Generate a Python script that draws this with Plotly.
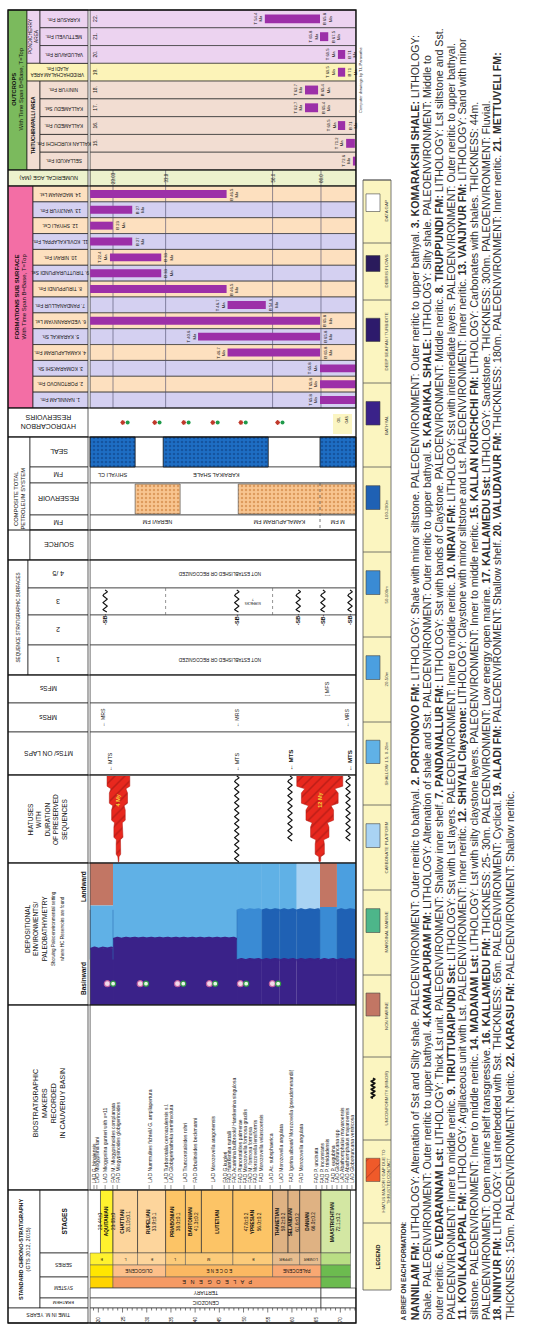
import math
import plotly.graph_objects as go

W, H = 559, 1326
FONT = "Liberation Sans, Arial, Helvetica, sans-serif"

# ============================ DATA ============================
chart_top_ma, chart_base_ma = 18.3, 73.2
ruler_labels = [20, 25, 30, 35, 40, 45, 50, 55, 60, 65, 70]
ruler_ticks = list(range(19, 74))

stage_names = ["AQUITANIAN", "CHATTIAN", "RUPELIAN", "PRIABONIAN", "BARTONIAN",
               "LUTETIAN", "YPRESIAN", "THANETIAN", "SELANDIAN", "DANIAN", "MAASTRICHTIAN"]
stage_top = [20.44, 23.03, 28.1, 33.9, 38.0, 41.3, 47.8, 56.0, 59.2, 61.6, 66.0]
stage_base = [23.03, 28.1, 33.9, 38.0, 41.3, 47.8, 56.0, 59.2, 61.6, 66.0, 72.1]
stage_top_text = ["20.44±0", "", "", "", "", "", "47.8±0.2", "", "", "", ""]
stage_base_text = ["23.03±0", "28.10±0.1", "33.9±0.1", "38.0±0.1", "41.3±0.2", "",
                   "56.0±0.2", "59.2±0.2", "61.6±0.2", "66.0±0.2", "72.1±0.2"]
stage_colors = ["#fff22e", "#fdd59c", "#fdd59c", "#fcc466", "#fcc466", "#fcc466",
                "#fcc466", "#dfb283", "#dfb283", "#dfb283", "#d3e7a3"]

subseries_names = ["E", "L", "E", "L", "M", "E", "UPPER", "LOWER", ""]
subseries_top = [18.3, 23.03, 28.1, 33.9, 38.0, 47.8, 56.0, 61.6, 66.0]
subseries_base = [23.03, 28.1, 33.9, 38.0, 47.8, 56.0, 61.6, 66.0, 72.1]
subseries_colors = ["#fff22e", "#fdd59c", "#fdd59c", "#fccb7a", "#fccb7a", "#fccb7a",
                    "#e7bd8f", "#e7bd8f", "#b9de84"]

series_names = ["", "OLIGOCENE", "E O C E N E", "PALEOCENE", ""]
series_top = [18.3, 23.03, 33.9, 56.0, 66.0]
series_base = [23.03, 33.9, 56.0, 66.0, 72.1]
series_colors = ["#ffe600", "#fdc08a", "#fbb862", "#f9a872", "#6cbb4f"]

system_names = ["", "P   A   L   E   O   G   E   N   E", ""]
system_top = [18.3, 23.03, 66.0]
system_base = [23.03, 66.0, 72.1]
system_colors = ["#ffd400", "#f59a64", "#6cbb4f"]

tertiary_name, tertiary_span = "TERTIARY", (18.3, 66.0)
erathem_name, erathem_span = "CENOZOIC", (18.3, 66.0)

bio_events = ["LAD G. binaiensis", "LAD Miogypsina tani", "LAD Miogypsina gunteri with x=11",
              "FAD M. Miogypsinoides complanata", "FAD Miogypsinoides globigerinoides",
              "LAD Nummulites fichteli/ G. ampliapertura", "LAD Turborotalia cerroazulensis s.l.",
              "LAD Globigerinatheka semiinvoluta", "LAD Truncorotaloides rohri",
              "FAD Orbulinoides beckmanni", "LAD Morozovella aragonensis", "FAD G.kugleri",
              "FAD Hantkenina nuttalli", "FAD Acarinina bullbrooki/ Hantkenina singulosa",
              "FAD Planorotalites palmerae", "FAD Morozovella formosa gracilis",
              "FAD M. formosa formosa", "FAD Morozovella lensiformis", "FAD Morozovella velascoensis",
              "LAD Ac. subsphaerica", "LAD Morozovella angulata",
              "FAD Igorina albeari/ Morozovella (pseudomenardii)", "FAD Morozovella angulata",
              "FAD P. uncinata", "FAD P. inconstans", "FAD P. trinidadensis", "FAD P. eugubina",
              "LAD Globotruncana spp", "LAD Abathomphalus mayaroensis",
              "FAD Abathomphalus mayaroensis", "LAD Globotruncana ventricosa"]
bio_ma = [19.1, 19.7, 21.4, 23.0, 23.9, 30.5, 33.8, 35.0, 37.7, 39.8, 43.5, 46.0, 47.0, 47.9,
          49.3, 50.3, 51.3, 52.4, 53.4, 55.5, 57.6, 59.6, 61.7, 65.0, 66.2, 67.2, 68.3, 69.3,
          70.3, 71.4, 72.4]

env_colors = {"gap": "#ffffff", "debris": "#2a1b5c", "turbidite": "#2d1a6c", "bathyal": "#3a2289",
              "m100": "#1f61b4", "m50": "#3a8bd4", "m20": "#4b9fe0", "shallow": "#60b1e6",
              "carb": "#a9d3f3", "marginal": "#4db68a", "non": "#c27664"}
dep_seg_start = [18.3, 23.03, 48.65, 53.8, 57.5, 61.0, 65.8, 69.3]
dep_seg_end = [23.03, 48.65, 53.8, 57.5, 61.0, 65.8, 69.3, 73.2]
dep_seg_layers = [
    [("non", 0.30), ("shallow", 0.60), ("bathyal", 1.0)],
    [("shallow", 0.53), ("bathyal", 1.0)],
    [("shallow", 0.33), ("m50", 0.68), ("bathyal", 1.0)],
    [("shallow", 0.33), ("m100", 0.68), ("bathyal", 1.0)],
    [("shallow", 0.33), ("m100", 0.68), ("bathyal", 1.0)],
    [("carb", 0.33), ("m100", 0.68), ("bathyal", 1.0)],
    [("non", 0.31), ("m50", 0.68), ("bathyal", 1.0)],
    [("m20", 0.33), ("m100", 0.68), ("bathyal", 1.0)],
]
hc_show_ma = [22.4, 29.2, 36.9, 43.5, 49.9, 56.5]

hiatus_top = [21.8, 61.0]
hiatus_base = [26.5, 70.5]
hiatus_text = ["4 My", "12 My"]
hiatus_unconf_ma = [48.6, 59.6, 71.6]

mts_ma = [22.3, 48.6, 59.6, 71.9]
mrs_ma = [20.8, 48.6, 71.3]
mfs_ma = [67.3]
sb_ma = [21.4, 48.6, 61.3, 66.4, 72.0]
numeric_age_ma = [23.03, 33.9, 56.0, 66.0]

seal_top = [18.3, 33.4, 65.8]
seal_base = [27.6, 55.1, 73.2]
seal_names = ["SHIYALI CL", "KARAIKAL SHALE", ""]
res_top = [27.6, 48.9]
res_base = [36.9, 73.2]
res_names = ["NERAVI FM", "KAMALAPURAM FM"]
res_split_ma = 65.8
hc_pairs_ma = [25.5, 32.1, 38.1, 44.1, 49.9, 57.5]

sub_names = ["14. MADANAM Lst.", "13. VANJIYUR Fm.", "12. SHIYALI Cst.", "11. KOVILKALAPPAL Fm.",
             "10. NIRAVI Fm.", "9. TIRUTTURAIPUNDI Sst.", "8. TIRUPPUNDI Fm.", "7. PANDANALLUR Fm.",
             "6. VEDARANNYAM Lst.", "5. KARAIKAL Sh.", "4. KAMALAPURAM Fm.", "3. KOMARAKSHI Sh.",
             "2. PORTONOVO Fm.", "1. NANNILAM Fm."]
sub_top = [18.3, 18.3, 18.3, 18.3, 22.4, 18.3, 18.3, 46.7, 18.3, 40.6, 46.7, 65.8, 65.8, 65.8]
sub_base = [46.5, 27.0, 23.0, 27.0, 33.0, 33.0, 46.5, 54.6, 65.8, 65.8, 65.8, 73.2, 73.2, 73.2]

out_names = ["KARASUR Fm.", "METTUVELI Fm.", "VALUDAVUR Fm.", "ALADI Fm.", "NINIYUR Fm.",
             "KALLAMEDU Sst.", "KALLAMEDU Fm.", "KALLAN KURCHCHI Fm.", "SELLAKUDI Fm."]
out_nums = ["22.", "21.", "20.", "19.", "18.", "17.", "16.", "15.", ""]
out_area = ["PONDICHERRY", "PONDICHERRY", "PONDICHERRY", "VRIDDHACHALAM", "TRICHY", "TRICHY",
            "TRICHY", "TRICHY", "TRICHY"]
out_top = [54.4, 65.8, 69.5, 69.5, 62.7, 62.7, 69.5, 71.2, 72.6]
out_base = [65.8, 67.5, 71.0, 71.0, 65.4, 65.4, 71.0, 73.0, 73.2]

legend_labels = ["DATA GAP", "DEBRIS FLOWS", "DEEP SEA FAN / TURBIDITE", "BATHYAL", "100-200m",
                 "50-100m", "20-50m", "SHALLOW 1.5; 0-20m", "CARBONATE PLATFORM", "MARGINAL MARINE",
                 "NON MARINE", "UNCONFORMITY (MINOR)",
                 "HIATUS MAJOR / GAP DUE TO<br>THRUSTED CONTACT", "LEGEND"]
legend_keys = ["gap", "debris", "turbidite", "bathyal", "m100", "m50", "m20", "shallow", "carb",
               "marginal", "non", "unconf", "hiatus", "title"]

brief_lines = [
    "<b>A BRIEF ON EACH FORMATION:</b>",
    "<b>NANNILAM FM:</b> LITHOLOGY: Alternation of Sst and Silty shale. PALEOENVIRONMENT: Outer neritic to bathyal. <b>2. PORTONOVO FM:</b> LITHOLOGY: Shale with minor siltstone. PALEOENVIRONMENT: Outer neritic to upper bathyal. <b>3. KOMARAKSHI SHALE:</b> LITHOLOGY:",
    "Shale. PALEOENVIRONMENT: Outer neritic to upper bathyal. <b>4.KAMALAPURAM FM:</b> LITHOLOGY: Alternation of shale and Sst. PALEOENVIRONMENT: Outer neritic to upper bathyal. <b>5. KARAIKAL SHALE:</b> LITHOLOGY: Silty shale. PALEOENVIRONMENT: Middle to",
    "outer neritic. <b>6. VEDARANNAM Lst:</b> LITHOLOGY: Thick Lst unit. PALEOENVIRONMENT: Shallow inner shelf. <b>7. PANDANALLUR FM:</b> LITHOLOGY: Sst with bands of Claystone. PALEOENVIRONMENT: Middle neritic. <b>8. TIRUPPUNDI FM:</b> LITHOLOGY: Lst siltstone and Sst.",
    "PALEOENVIRONMENT: Inner to middle neritic. <b>9. TIRUTTURAIPUNDI Sst:</b> LITHOLOGY: Sst with Lst layers. PALEOENVIRONMENT: Inner to middle neritic. <b>10. NIRAVI FM:</b> LITHOLOGY: Sst with intermediate layers. PALEOENVIRONMENT: Outer neritic to upper bathyal.",
    "<b>11. KOVILKALAPPAL FM:</b> LITHOLOGY: Argillaceous unit with Lst. PALEOENVIRONMENT: Inner neritic. <b>12. SHIYALI Claystone:</b> LITHOLOGY: Claystone with minor siltstone and Lst. PALEOENVIRONMENT: Inner neritic. <b>13. VANJIYUR FM:</b> LITHOLOGY: Sand with minor",
    "siltstone. PALEOENVIRONMENT: Inner to middle neritic. <b>14. MADANAM Lst:</b> LITHOLOGY: Lst with silty claystone layers. PALEOENVIRONMENT: Inner to middle neritic. <b>15. KALLAN KURCHCHI FM:</b> LITHOLOGY: Carbonates with shales. THICKNESS: 44m.",
    "PALEOENVIRONMENT: Open marine shelf transgressive. <b>16. KALLAMEDU FM:</b> THICKNESS: 25- 30m. PALEOENVIRONMENT: Low energy open marine. <b>17. KALLAMEDU Sst:</b> LITHOLOGY: Sandstone. THICKNESS: 300m. PALEOENVIRONMENT: Fluvial.",
    "<b>18. NINIYUR FM:</b> LITHOLOGY: Lst interbedded with Sst. THICKNESS: 65m. PALEOENVIRONMENT: Cyclical. <b>19. ALADI FM:</b> PALEOENVIRONMENT: Shallow shelf. <b>20. VALUDAVUR FM:</b> THICKNESS: 180m. PALEOENVIRONMENT: Inner neritic. <b>21. METTUVELI FM:</b>",
    "THICKNESS: 150m. PALEOENVIRONMENT: Neritic. <b>22. KARASU FM:</b> PALEOENVIRONMENT: Shallow neritic.",
]

# ============================ LAYOUT CONSTANTS ============================
X_RANGE = [-0.32, 115.18]          # Ma at left / right page edge
LANE = {
    "outcrops": (10, 170), "numage": (170, 186), "subsurface": (186, 408), "hc": (408, 437),
    "seal": (437, 467), "seal_fm": (467, 483), "res": (483, 515), "res_fm": (515, 530),
    "source": (530, 560), "seq45": (560, 588), "seq3": (588, 615), "seq2": (615, 645),
    "seq1": (645, 675), "mfs": (675, 703), "mrs": (703, 732), "mts": (732, 775),
    "hiatus": (775, 863), "dep": (863, 1005), "bio": (1005, 1190), "stages": (1190, 1253),
    "subseries": (1253, 1265), "series": (1265, 1277), "system": (1277, 1288),
    "tertiary": (1288, 1298), "erathem": (1298, 1308), "time": (1308, 1323),
}
FX0, FXL, FX1 = 8, 88, 356

# Arial / Liberation Sans advance widths (1/1000 em) for fitting the justified brief text
_UP = "ABCDEFGHIJKLMNOPQRSTUVWXYZ"
_LO = "abcdefghijklmnopqrstuvwxyz"
_W_UP = [667, 667, 722, 722, 667, 611, 778, 722, 278, 500, 667, 556, 833, 722, 778, 667, 778, 722,
         667, 611, 722, 667, 944, 667, 667, 611]
_W_LO = [556, 556, 500, 556, 556, 278, 556, 556, 222, 222, 500, 222, 833, 556, 556, 556, 556, 333,
         500, 278, 556, 500, 722, 500, 500, 500]
_WB_UP = [722, 722, 722, 722, 667, 611, 778, 722, 278, 556, 722, 611, 833, 722, 778, 667, 778, 722,
          667, 611, 722, 667, 944, 667, 667, 611]
_WB_LO = [556, 611, 556, 611, 556, 333, 611, 611, 278, 278, 556, 278, 889, 611, 611, 611, 611, 389,
          556, 333, 611, 556, 778, 556, 556, 500]
_REG = dict(zip(_UP, _W_UP)); _REG.update(zip(_LO, _W_LO))
_BOLD = dict(zip(_UP, _WB_UP)); _BOLD.update(zip(_LO, _WB_LO))
for _d, _colon in ((_REG, 278), (_BOLD, 333)):
    _d.update({" ": 278, ".": 278, ",": 278, ":": _colon, ";": _colon, "-": 333, "(": 333,
               ")": 333, "/": 278, "=": 584, "±": 584})
    _d.update({c: 556 for c in "0123456789"})


def text_em(s):
    total, bold, i = 0, False, 0
    while i < len(s):
        if s.startswith("<b>", i):
            bold, i = True, i + 3
            continue
        if s.startswith("</b>", i):
            bold, i = False, i + 4
            continue
        total += (_BOLD if bold else _REG).get(s[i], 556)
        i += 1
    return total / 1000.0


shapes, anns = [], []
fig = go.Figure()


def P(p):
    return p / W


def px2ma(p):
    return X_RANGE[0] + p / W * (X_RANGE[1] - X_RANGE[0])


def rect(x0, x1, y0, y1, fill=None, lc="#1a1a1a", lw=0.7, xref="x", layer="below", dash=None):
    line = dict(color=lc, width=lw) if lc else dict(width=0)
    if dash:
        line["dash"] = dash
    s = dict(type="rect", xref=xref, yref="y", x0=x0, x1=x1, y0=y0, y1=y1, line=line, layer=layer)
    if fill:
        s["fillcolor"] = fill
    shapes.append(s)


def seg(x0, y0, x1, y1, xref="x", lc="#1a1a1a", lw=0.7, dash=None, layer="below"):
    line = dict(color=lc, width=lw)
    if dash:
        line["dash"] = dash
    shapes.append(dict(type="line", xref=xref, yref="y", x0=x0, y0=y0, x1=x1, y1=y1, line=line, layer=layer))


def txt(x, y, s, size=6, angle=0, xref="x", color="#111", xa="center", ya="middle", align="center"):
    anns.append(dict(x=x, y=y, xref=xref, yref="y", text=s, showarrow=False, textangle=angle,
                     font=dict(size=size, color=color, family=FONT), xanchor=xa, yanchor=ya,
                     align=align, borderpad=0))


def poly(xs, ys, fill, line_c="#222", lw=0.6, pattern=None):
    kw = dict(x=xs, y=ys, mode="lines", fill="toself", fillcolor=fill,
              line=dict(color=line_c, width=lw), hoverinfo="skip", showlegend=False)
    if pattern:
        kw["fillpattern"] = pattern
    fig.add_trace(go.Scatter(**kw))


def wavy(m, y0, y1, amp=0.45, period=7.0, color="#111", width=1.1):
    n = int((y1 - y0) / 0.5) + 1
    ys = [y0 + k * 0.5 for k in range(n)]
    xs = [m + amp * math.sin(2 * math.pi * (y - y0) / period) for y in ys]
    fig.add_trace(go.Scatter(x=xs, y=ys, mode="lines", line=dict(color=color, width=width),
                             hoverinfo="skip", showlegend=False))


def hwavy(x0, x1, y, color, amp=1.3, period=1.7, width=2.2):
    n = int((x1 - x0) / 0.1) + 1
    xs = [x0 + k * (x1 - x0) / (n - 1) for k in range(n)]
    ys = [y - amp * abs(math.sin(math.pi * (x - x0) / period)) for x in xs]
    fig.add_trace(go.Scatter(x=xs, y=ys, mode="lines", line=dict(color=color, width=width),
                             hoverinfo="skip", showlegend=False))


def mid(a, b):
    return (a + b) / 2


# ============================ OUTCROPS ============================
area_col = {"PONDICHERRY": "#ecd3f0", "VRIDDHACHALAM": "#fcf3b8", "TRICHY": "#f2ddd2"}
oy0, oy1 = LANE["outcrops"]
orow = (oy1 - oy0) / len(out_names)
rect(P(FX0), P(27), oy0, oy1, fill="#7bba5d", xref="paper")
txt(P(17.5), mid(oy0, oy1), "<b>OUTCROPS</b><br>With Time Span B=Base, T=Top", size=5.8, angle=-90,
    xref="paper")
groups = {}
for i, a in enumerate(out_area):
    groups.setdefault(a, []).append(i)
for a, idx in groups.items():
    ya = oy0 + idx[0] * orow
    yb = oy0 + (idx[-1] + 1) * orow
    if a == "VRIDDHACHALAM":
        rect(P(27), P(FXL), ya, yb, fill=area_col[a], xref="paper")
        txt(P(57), mid(ya, yb), "VRIDDHACHALAM AREA<br>ALADI Fm.", size=4.6, angle=180, xref="paper")
    else:
        rect(P(27), P(40), ya, yb, fill=area_col[a], xref="paper")
        lab = "PONDICHERRY<br>AREA" if a == "PONDICHERRY" else "<b>THITUCHIRAPALLI AREA</b>"
        txt(P(33.5), mid(ya, yb), lab, size=4.8, angle=-90, xref="paper")
for i, nm in enumerate(out_names):
    y0 = oy0 + i * orow
    y1 = y0 + orow
    c = area_col[out_area[i]]
    rect(chart_top_ma, chart_base_ma, y0, y1, fill=c, lc="#333", lw=0.7)
    if out_area[i] != "VRIDDHACHALAM":
        rect(P(40), P(FXL), y0, y1, fill=c, xref="paper")
        txt(P(64), mid(y0, y1), nm, size=4.8, angle=180, xref="paper")
    txt(P(95), mid(y0, y1), out_nums[i], size=5, angle=-90, xref="paper")

# ============================ NUMERICAL AGE ============================
ny0, ny1 = LANE["numage"]
rect(P(FX0), P(FXL), ny0, ny1, fill="#edf2cd", xref="paper")
rect(chart_top_ma, chart_base_ma, ny0, ny1, fill="#edf2cd")
txt(P(48), mid(ny0, ny1), "NUMERICAL AGE (MA)", size=5.5, angle=180, xref="paper")
for v in numeric_age_ma:
    txt(v, mid(ny0, ny1), f"{v:.2f}" if v < 30 else f"{v:.1f}", size=4.5, angle=-90)

# ============================ SUBSURFACE ============================
sy0, sy1 = LANE["subsurface"]
srow = (sy1 - sy0) / len(sub_names)
rect(P(FX0), P(33), sy0, sy1, fill="#f36ea5", xref="paper")
txt(P(20.5), mid(sy0, sy1), "<b>FORMATIONS SUB SURFACE</b><br>With Time Span B=Base, T=Top", size=6,
    angle=-90, xref="paper")
sub_cols = ["#fde0bf", "#d4d0f1"]
for i, nm in enumerate(sub_names):
    y0 = sy0 + i * srow
    y1 = y0 + srow
    c = sub_cols[i % 2]
    rect(P(33), P(FXL), y0, y1, fill=c, xref="paper")
    rect(chart_top_ma, chart_base_ma, y0, y1, fill=c, lc="#333")
    txt(P(60.5), mid(y0, y1), nm, size=4.8, angle=180, xref="paper")
for v in numeric_age_ma:
    seg(v, ny0, v, sy1, lc="#4a4a6a", lw=0.6)

# ============================ HC RESERVOIRS / PETROLEUM SYSTEM ============================
hy0, hy1 = LANE["hc"]
rect(P(FX0), P(FXL), hy0, hy1, fill="white", xref="paper")
txt(P(48), mid(hy0, hy1), "HYDROCARBON<br>RESERVOIRS", size=7, angle=180, xref="paper")
red_x = [m - 0.45 for m in hc_pairs_ma]
grn_x = [m + 0.55 for m in hc_pairs_ma]
fig.add_trace(go.Scatter(x=red_x, y=[mid(hy0, hy1)] * len(red_x), mode="markers",
                         marker=dict(color="#c0392b", size=4, symbol="asterisk-open",
                                     line=dict(color="#c0392b", width=1.2)),
                         hoverinfo="skip", showlegend=False))
fig.add_trace(go.Scatter(x=grn_x, y=[mid(hy0, hy1)] * len(grn_x), mode="markers",
                         marker=dict(color="#1f9a4a", size=4), hoverinfo="skip", showlegend=False))
rect(P(333), P(352), hy0 + 6, hy1 - 3, fill="#fbf5c2", lc=None, xref="paper", layer="above")
txt(P(338), mid(hy0, hy1) - 3, "OIL", size=3.5, angle=-90, xref="paper")
txt(P(346), mid(hy0, hy1) - 3, "GAS", size=3.5, angle=-90, xref="paper")
fig.add_trace(go.Scatter(x=[px2ma(338), px2ma(346)], y=[hy1 - 7, hy1 - 7], mode="markers",
                         marker=dict(color=["#c0392b", "#1f9a4a"], size=3), hoverinfo="skip",
                         showlegend=False))

cy0 = LANE["seal"][0]
cy1 = LANE["source"][1]
rect(P(FX0), P(30), cy0, cy1, fill="white", xref="paper")
txt(P(19), mid(cy0, cy1), "COMPOSITE TOTAL<br>PETROLEUM SYSTEM", size=5.8, angle=-90, xref="paper")
for key, lab, sz in [("seal", "SEAL", 7), ("seal_fm", "FM", 6.5), ("res", "RESERVOIR", 7),
                     ("res_fm", "FM", 6.5), ("source", "SOURCE", 7)]:
    a, b = LANE[key]
    rect(P(30), P(FXL), a, b, fill="white", xref="paper")
    txt(P(59), mid(a, b), lab, size=sz, angle=180, xref="paper")
    rect(chart_top_ma, chart_base_ma, a, b, fill="white", lc="#333")

a, b = LANE["seal"]
for t, bs, nm in zip(seal_top, seal_base, seal_names):
    poly([t, bs, bs, t, t], [a, a, b, b, a], "#1e6ec4", "#111", 0.8,
         dict(shape=".", bgcolor="#1e6ec4", fgcolor="#0b3a7a", size=4, solidity=0.35))
    if nm:
        txt(mid(t, bs), mid(*LANE["seal_fm"]), nm, size=5.5, angle=180)
a, b = LANE["res"]
for t, bs, nm in zip(res_top, res_base, res_names):
    poly([t, bs, bs, t, t], [a + 1, a + 1, b - 1, b - 1, a + 1], "#f8c590", "#444", 0.6,
         dict(shape=".", bgcolor="#f8c590", fgcolor="#c46f2a", size=4, solidity=0.3))
    txt(mid(t, min(bs, res_split_ma)), mid(*LANE["res_fm"]), nm, size=5.5, angle=180)
seg(res_split_ma, LANE["res"][0], res_split_ma, LANE["res_fm"][1], lc="#555", lw=0.8, dash="dot",
    layer="above")
txt(mid(res_split_ma, chart_base_ma), mid(*LANE["res_fm"]), "M FM", size=5.5, angle=180)

# ============================ SEQUENCE STRATIGRAPHY ============================
qy0 = LANE["seq45"][0]
qy1 = LANE["seq1"][1]
rect(P(FX0), P(28), qy0, qy1, fill="white", xref="paper")
txt(P(18), mid(qy0, qy1), "SEQUENCE STRATIGRAPHIC SURFACES", size=4.6, angle=-90, xref="paper")
for key, lab in [("seq45", "4 /5"), ("seq3", "3"), ("seq2", "2"), ("seq1", "1")]:
    a, b = LANE[key]
    rect(P(28), P(FXL), a, b, fill="white", xref="paper")
    txt(P(58), mid(a, b), lab, size=7, angle=180, xref="paper")
    rect(chart_top_ma, chart_base_ma, a, b, fill="white", lc="#333")
for key in ["seq45", "seq1"]:
    txt(px2ma(220), mid(*LANE[key]), "NOT ESTABLISHED OR RECOGNIZED", size=4.6, angle=180)
for v in numeric_age_ma[1:3]:
    seg(v, LANE["seq3"][0], v, LANE["seq3"][1], lc="#666", lw=0.7, dash="dot")
txt(px2ma(253), mid(*LANE["seq3"]), "SURFACES<br>?", size=3, angle=180)
for m in sb_ma:
    wavy(m, LANE["seq3"][0] + 2, LANE["seq2"][0] - 3)
    txt(m, LANE["seq2"][0] + 5, "<b>-SB-</b>", size=5.5, angle=-90)

# ============================ MFS / MRS / MTS ============================
for key, lab in [("mfs", "MFSs"), ("mrs", "MRSs"), ("mts", "MTSs/ ON LAPS")]:
    a, b = LANE[key]
    rect(P(FX0), P(FXL), a, b, fill="white", xref="paper")
    txt(P(48), mid(a, b), lab, size=6.5, angle=180, xref="paper")
    rect(chart_top_ma, chart_base_ma, a, b, fill="white", lc="#333")
for m in mfs_ma:
    txt(m, mid(*LANE["mfs"]), "[ MFS", size=5.5, angle=-90)
for m in mrs_ma:
    txt(m, mid(*LANE["mrs"]), "← MRS", size=5.2, angle=-90)
for i, m in enumerate(mts_ma):
    txt(m, LANE["mts"][1] - 3, "<b>← MTS</b>" if i >= 2 else "← MTS", size=6.2 if i >= 2 else 5.4,
        angle=-90, ya="bottom")

# ============================ HIATUSES ============================
ha, hb = LANE["hiatus"]
rect(P(FX0), P(FXL), ha, hb, fill="white", xref="paper")
txt(P(48), mid(ha, hb), "HIATUSES<br>WITH<br>DURATION<br>OF PRESERVED<br>SEQUENCES", size=6.5,
    angle=-90, xref="paper")
rect(chart_top_ma, chart_base_ma, ha, hb, fill="white", lc="#333")
for t, bs, lab in zip(hiatus_top, hiatus_base, hiatus_text):
    c = mid(t, bs)
    hw = (bs - t) / 2
    ytop, ytip = ha + 1, hb - 2
    n = 5
    dh = (ytip - ytop) / n
    left = [(c - hw, ytop)]
    for k in range(n):
        wk = hw * (1 - k / n)
        wn = hw * (1 - (k + 1) / n)
        yk = ytop + k * dh
        left.append((c - wk, yk + 0.6 * dh))
        left.append((c - max(wn, hw * 0.04) * 0.8 - 0.05, yk + dh * 0.75))
        left.append((c - max(wn, hw * 0.04), yk + dh))
    left.append((c, ytip + 1))
    right = [(2 * c - x, y) for (x, y) in reversed(left)]
    pts = left + right
    poly([p[0] for p in pts], [p[1] for p in pts], "#e8281e", "#b01810", 0.5,
         dict(shape="/", bgcolor="#e8281e", fgcolor="#8e1410", size=7, solidity=0.22))
    txt(c, ha + 25, f"<b>{lab}</b>", size=5.5, angle=-90, color="#f5d23c")
for m in hiatus_unconf_ma:
    wavy(m, ha + 1, hb - 22 if m > 55 else hb - 1)

# ============================ DEPOSITIONAL ENVIRONMENT ============================
da, db = LANE["dep"]
rect(P(FX0), P(FXL), da, db, fill="white", xref="paper")
txt(P(44), mid(da, db) - 5, "DEPOSITIONAL<br>ENVIRONMENTS/<br>PALEOBATHYMETRY<br>"
    "<span style='font-size:4.6px'>Showing Paleoenvironmental setting</span><br>"
    "<span style='font-size:4.6px'>where HC Reservoirs are found</span>", size=6.5, angle=-90,
    xref="paper")
txt(P(83), da + 24, "<b>Landward</b>", size=6.5, angle=-90, xref="paper")
txt(P(83), db - 26, "<b>Basinward</b>", size=6.5, angle=-90, xref="paper")
for s0, s1, layers in zip(dep_seg_start, dep_seg_end, dep_seg_layers):
    f0 = 0.0
    for key, f1 in layers:
        rect(s0, s1, da + f0 * (db - da), da + f1 * (db - da), fill=env_colors[key], lc=None)
        f0 = f1
    seg(s0, da + 0.33 * (db - da), s0, da + 0.68 * (db - da), lc="#2d6fb5", lw=0.6)
for s0, s1, layers in zip(dep_seg_start, dep_seg_end, dep_seg_layers):
    for (k_up, f_up), (k_dn, _) in zip(layers[:-1], layers[1:]):
        if k_up not in ("non",):
            hwavy(s0 + 0.05, s1 - 0.05, da + f_up * (db - da) + 0.8, env_colors[k_dn])
rect(chart_top_ma, chart_base_ma, da, db, fill=None, lc="#333")
hy = da + 0.85 * (db - da)
fig.add_trace(go.Scatter(x=[m - 0.55 for m in hc_show_ma], y=[hy] * len(hc_show_ma), mode="markers",
                         marker=dict(color="#f2d9ea", size=6, symbol="circle",
                                     line=dict(color="#c060a0", width=1.2)),
                         hoverinfo="skip", showlegend=False))
fig.add_trace(go.Scatter(x=[m + 0.65 for m in hc_show_ma], y=[hy] * len(hc_show_ma), mode="markers",
                         marker=dict(color="#e8f5e8", size=5, symbol="circle",
                                     line=dict(color="#2f9a45", width=1.2)),
                         hoverinfo="skip", showlegend=False))

# ============================ BIOSTRATIGRAPHY ============================
ba, bb = LANE["bio"]
rect(P(FX0), P(FXL), ba, bb, fill="white", xref="paper")
txt(P(48), mid(ba, bb) + 5, "BIOSTRATIGRAPHIC<br>MAKERS<br>RECORDED<br>IN CAUVERUY BASIN", size=7,
    angle=-90, xref="paper")
rect(chart_top_ma, chart_base_ma, ba, bb, fill="white", lc="#333")
for nm, m in zip(bio_events, bio_ma):
    seg(m, bb - 1, m, bb - 5, lc="#333", lw=0.5)
    txt(m, bb - 6, nm, size=5, angle=-90, ya="bottom", color="#222")

# ============================ CHRONOSTRATIGRAPHY ============================
ka = LANE["stages"][0]
kb = LANE["erathem"][1]
rect(P(FX0), P(40), ka, kb, fill="white", xref="paper")
txt(P(24), mid(ka, kb), "<b>STANDARD CHRONO-STRATIGRAPHY</b><br>(GTS 2012, 2015)", size=5.5,
    angle=-90, xref="paper")
a, b = LANE["stages"]
rect(P(40), P(FXL), a, b, fill="white", xref="paper")
txt(P(64), mid(a, b), "<b>STAGES</b>", size=6.5, angle=-90, xref="paper")
a, b = LANE["subseries"][0], LANE["series"][1]
rect(P(40), P(FXL), a, b, fill="white", xref="paper")
txt(P(64), mid(a, b), "SERIES", size=4.6, angle=180, xref="paper")
a, b = LANE["system"][0], LANE["tertiary"][1]
rect(P(40), P(FXL), a, b, fill="white", xref="paper")
txt(P(64), mid(a, b), "SYSTEM", size=4.6, angle=180, xref="paper")
a, b = LANE["erathem"]
rect(P(40), P(FXL), a, b, fill="white", xref="paper")
txt(P(64), mid(a, b), "ERATHEM", size=4.4, angle=180, xref="paper")
ta, tb = LANE["time"]
rect(P(FX0), P(FXL), ta, tb, fill="white", xref="paper")
txt(P(48), mid(ta, tb), "TIME IN M. YEARS", size=5, angle=180, xref="paper")

a, b = LANE["stages"]
for nm, t, bs, tt, bt, c in zip(stage_names, stage_top, stage_base, stage_top_text, stage_base_text,
                                stage_colors):
    t0 = max(t, chart_top_ma)
    rect(t0, bs, a, b, fill=c, lc="#333")
    parts = []
    if tt:
        parts.append(tt)
    parts.append(f"<b>{nm}</b>")
    if bt:
        parts.append(bt)
    txt(mid(t0, bs), mid(a, b), "<br>".join(parts), size=4.8, angle=-90)
for key, names, tops, bases, cols, sz in [
        ("subseries", subseries_names, subseries_top, subseries_base, subseries_colors, 3.8),
        ("series", series_names, series_top, series_base, series_colors, 4.6),
        ("system", system_names, system_top, system_base, system_colors, 5.5)]:
    a, b = LANE[key]
    for nm, t, bs, c in zip(names, tops, bases, cols):
        rect(t, bs, a, b, fill=c, lc="#555", lw=0.5)
        if nm:
            txt(mid(t, bs), mid(a, b), nm, size=sz, angle=180)
a, b = LANE["tertiary"]
rect(tertiary_span[0], tertiary_span[1], a, b, fill="white", lc="#333")
txt(mid(*tertiary_span), mid(a, b), tertiary_name, size=5, angle=180)
rect(tertiary_span[1], chart_base_ma, a, b, fill="white", lc="#333")
a, b = LANE["erathem"]
rect(erathem_span[0], erathem_span[1], a, b, fill="white", lc="#333")
txt(mid(*erathem_span), mid(a, b), erathem_name, size=5, angle=180)
rect(erathem_span[1], chart_base_ma, a, b, fill="white", lc="#333")
rect(chart_top_ma, chart_base_ma, ta, tb, fill="white", lc="#333")
tx, ty = [], []
for t in ruler_ticks:
    ln = 4.5 if t in ruler_labels else 2.5
    tx += [t, t, None]
    ty += [ta, ta + ln, None]
fig.add_trace(go.Scatter(x=tx, y=ty, mode="lines", line=dict(color="#222", width=0.6),
                         hoverinfo="skip", showlegend=False))
for t in ruler_labels:
    txt(t, tb - 4, str(t), size=4.6, angle=-90)

# ============================ FORMATION BARS ============================
PURPLE = "#9c2fa8"


def bars(names_, tops, bases, y0, rowh, label_size=4.2):
    ys = [y0 + (i + 0.5) * rowh for i in range(len(names_))]
    fig.add_trace(go.Bar(orientation="h", y=ys, x=[bs - t for t, bs in zip(tops, bases)], base=tops,
                         width=rowh * 0.5, marker=dict(color=PURPLE, line=dict(width=0)),
                         hoverinfo="skip", showlegend=False))
    for yc, t, bs in zip(ys, tops, bases):
        if t > chart_top_ma + 0.3:
            txt(t - 0.25, yc, f"T {t:g}<br>Ma", size=label_size, angle=-90, xa="right")
        if bs < chart_base_ma - 0.3:
            txt(bs + 0.25, yc, f"B {bs:g}<br>Ma", size=label_size, angle=-90, xa="left")


bars(sub_names, sub_top, sub_base, sy0, srow)
bars(out_names, out_top, out_base, oy0, orow)

# ============================ FRAME ============================
rect(P(FX0), P(FX1), 10, LANE["time"][1], fill=None, lc="#111", lw=1.3, xref="paper", layer="above")
for key in ["numage", "subsurface", "hc", "seal", "source", "seq45", "mfs", "hiatus", "dep", "bio",
            "stages"]:
    seg(P(FX0), LANE[key][0], P(FX1), LANE[key][0], xref="paper", lc="#111", lw=1.0, layer="above")
txt(P(360), 80, "Computer drawings by T.L.Paravathe", size=4, angle=-90, xref="paper", color="#333")

# ============================ LEGEND ============================
lb = [180, 243, 300, 383, 467, 552, 637, 722, 805, 890, 975, 1057, 1140, 1223, 1290]
rect(P(363), P(391), lb[0], lb[-1], fill="#fbf5c0", lc="#555", lw=0.8, xref="paper")
for i, (lab, key) in enumerate(zip(legend_labels, legend_keys)):
    y0, y1 = lb[i], lb[i + 1]
    seg(P(363), y0, P(391), y0, xref="paper", lc="#555", lw=0.8)
    if key == "title":
        txt(P(377), mid(y0, y1), "<b>LEGEND</b>", size=6, angle=-90, xref="paper")
        continue
    sq0, sq1 = y0 + (y1 - y0) * 0.22, y0 + (y1 - y0) * 0.5
    if key in env_colors:
        rect(P(366), P(380), sq0, sq1, fill=env_colors[key], lc="#444", lw=0.6, xref="paper")
    elif key == "hiatus":
        x0m, x1m = px2ma(366), px2ma(380)
        poly([x0m, x1m, x1m, x0m, x0m], [sq0, sq0, sq1, sq1, sq0], "#ef5a2a", "#444", 0.5,
             dict(shape="/", bgcolor="#ef5a2a", fgcolor="#7a1a10", size=12, solidity=0.08))
    elif key == "unconf":
        wavy(px2ma(373), sq0 + 3, sq1, amp=0.35, period=4, width=1.6)
    txt(P(386), mid(y0, y1), lab, size=4.4, angle=-90, xref="paper", color="#444")

# ============================ BRIEF TEXT ============================
TARGET_LEN = 1305.0
body_sizes = [min(10.6, TARGET_LEN / text_em(s)) for s in brief_lines[1:-1]]
typical = sorted(body_sizes)[len(body_sizes) // 2]
for i, line in enumerate(brief_lines):
    xpx = 403 + i * 11.8
    if i == 0:
        size = 6.4
    elif i == len(brief_lines) - 1:
        size = typical
    else:
        size = body_sizes[i - 1]
    txt(P(xpx), 1321, line, size=round(size, 2), angle=-90, xref="paper", ya="bottom",
        color="#2e2e2e")

fig.update_layout(
    width=W, height=H, margin=dict(l=0, r=0, t=0, b=0), autosize=False,
    paper_bgcolor="white", plot_bgcolor="white", showlegend=False, barmode="overlay",
    xaxis=dict(range=X_RANGE, visible=False, fixedrange=True),
    yaxis=dict(range=[H, 0], visible=False, fixedrange=True),
    shapes=shapes, annotations=anns, font=dict(family=FONT),
)
fig.write_html("out.html", config={"displayModeBar": False, "staticPlot": True},
               post_script="document.body.style.margin='0';")
